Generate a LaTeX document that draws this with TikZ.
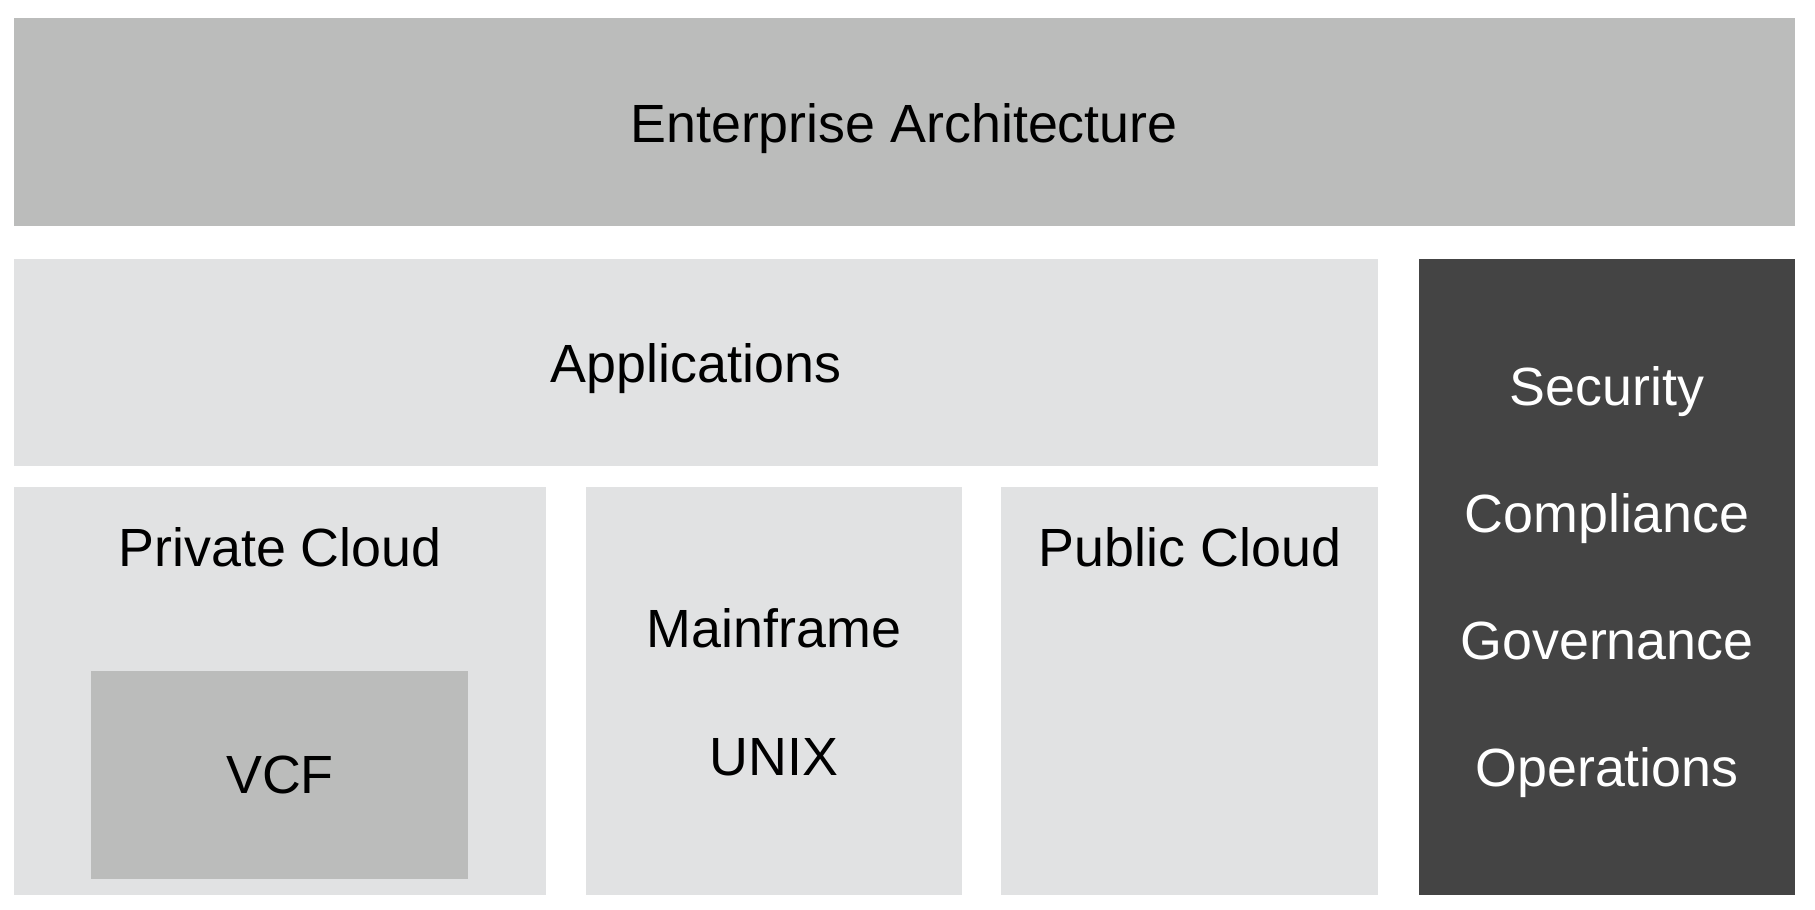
\documentclass[tikz,border=0pt]{standalone}
\usepackage{fontspec}
\setmainfont{Liberation Sans}
\definecolor{eagray}{HTML}{BBBCBB}
\definecolor{paleg}{HTML}{E1E2E3}
\definecolor{darkg}{HTML}{444444}
\begin{document}
\begin{tikzpicture}[x=0.01cm,y=-0.01cm,font=\fontsize{15.3}{18}\selectfont,
  lbl/.style={anchor=base,inner sep=0pt},
  lblw/.style={lbl,text=white}]
  \useasboundingbox (0,0) rectangle (1815,910);
  % layers
  \fill[eagray] (14,18) rectangle (1795,226);
  \fill[paleg] (14,259) rectangle (1378,466);
  \fill[darkg] (1419,259) rectangle (1795,895);
  \fill[paleg] (14,487) rectangle (546,895);
  \fill[paleg] (586,487) rectangle (962,895);
  \fill[paleg] (1001,487) rectangle (1378,895);
  \fill[eagray] (91,671) rectangle (468,879);
  % labels
  \node[lbl] (ea) at (904,143) {Enterprise Architecture};
  \node[lbl] (apps) at (696,383) {Applications};
  \node[lbl] (priv) at (280,567) {Private Cloud};
  \node[lbl] (vcf) at (280,794) {VCF};
  \node[lbl] (mf) at (774,648) {Mainframe};
  \node[lbl] (unix) at (774,775) {UNIX};
  \node[lbl] (pub) at (1190,567) {Public Cloud};
  \node[lblw] (sec) at (1607,406) {Security};
  \node[lblw] (comp) at (1607,533) {Compliance};
  \node[lblw] (gov) at (1607,660) {Governance};
  \node[lblw] (ops) at (1607,787) {Operations};
\end{tikzpicture}
\end{document}
